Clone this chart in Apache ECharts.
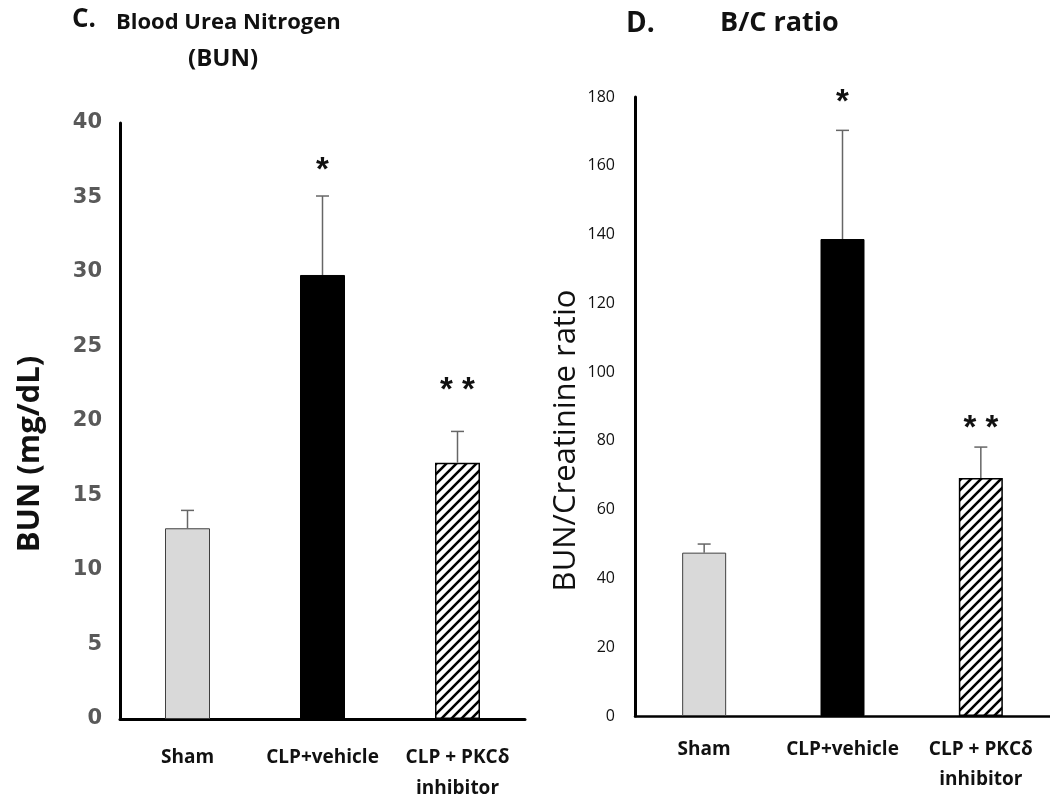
<!DOCTYPE html>
<html><head><meta charset="utf-8">
<script src="https://cdn.jsdelivr.net/npm/echarts@6/dist/echarts.min.js"></script>
<style>html,body{margin:0;padding:0;background:#fff}#c{width:1050px;height:804px}</style>
</head><body><div id="c"></div>
<script>
var categories = ['Sham', 'CLP+vehicle', 'CLP + PKCδ\ninhibitor'];
var bunMean = [12.8, 29.8, 17.2];
var bunErrTop = [14.0, 35.1, 19.3];
var bunStars = ['', '*', '* *'];
var bunTicks = [0, 5, 10, 15, 20, 25, 30, 35, 40];
var ratioMean = [47.5, 138.7, 69.2];
var ratioErrTop = [50.0, 170.3, 78.2];
var ratioStars = ['', '*', '* *'];
var ratioTicks = [0, 20, 40, 60, 80, 100, 120, 140, 160, 180];

var FONT = '"Open Sans", Lato, sans-serif';
var hatch = document.createElement('canvas');
hatch.width = 10; hatch.height = 10;
(function(){
  var g = hatch.getContext('2d');
  g.fillStyle = '#fff'; g.fillRect(0,0,10,10);
  g.strokeStyle = '#000'; g.lineWidth = 2.6;
  g.beginPath();
  g.moveTo(-2,12); g.lineTo(12,-2);
  g.moveTo(-7,7); g.lineTo(7,-7);
  g.moveTo(3,17); g.lineTo(17,3);
  g.stroke();
})();

var barStyles = [
  {color:'#d9d9d9', borderColor:'#404040', borderWidth:1},
  {color:'#000000', borderColor:'#000000', borderWidth:1},
  {color:{image:hatch, repeat:'repeat'}, borderColor:'#000000', borderWidth:1.5}
];

function barData(vals){
  return vals.map(function(v,i){ return {value:v, itemStyle:barStyles[i]}; });
}
function errData(mean, top){
  return mean.map(function(v,i){ return [i, v, top[i]]; });
}
function errRender(params, api){
  var x = api.coord([api.value(0), api.value(1)]);
  var t = api.coord([api.value(0), api.value(2)]);
  var cap = 6.5;
  return {type:'group', children:[
    {type:'line', shape:{x1:x[0], y1:x[1], x2:t[0], y2:t[1]}, style:{stroke:'#666', lineWidth:1.5}},
    {type:'line', shape:{x1:t[0]-cap, y1:t[1], x2:t[0]+cap, y2:t[1]}, style:{stroke:'#666', lineWidth:1.5}}
  ]};
}
function starRender(offsets, stars){
  return function(params, api){
    var t = api.coord([api.value(0), api.value(2)]);
    var i = params.dataIndex;
    return {type:'text', x:t[0], y:t[1]-offsets[i], style:{text:stars[i], fill:'#111', font:'bold 33px "Liberation Sans", Arial, sans-serif', textAlign:'center', textVerticalAlign:'middle'}};
  };
}

var chart = echarts.init(document.getElementById('c'));
chart.setOption({
  animation:false,
  backgroundColor:'#fff',
  title:[
    {text:'C.', left:67, top:2, textStyle:{fontFamily:FONT, fontWeight:'bold', fontSize:26, color:'#111'}},
    {text:'Blood Urea Nitrogen', left:111, top:7, textStyle:{fontFamily:FONT, fontWeight:'bold', fontSize:22, color:'#111'}},
    {text:'(BUN)', left:183, top:42, textStyle:{fontFamily:FONT, fontWeight:'bold', fontSize:24, color:'#111'}},
    {text:'D.', left:621, top:5, textStyle:{fontFamily:FONT, fontWeight:'bold', fontSize:28, color:'#111'}},
    {text:'B/C ratio', left:715, top:5, textStyle:{fontFamily:FONT, fontWeight:'bold', fontSize:27, color:'#111'}}
  ],
  grid:[
    {left:120, top:123, width:405, height:599},
    {left:635, top:97, width:417, height:619}
  ],
  xAxis:[
    {type:'category', gridIndex:0, data:categories, axisLine:{lineStyle:{color:'#000', width:3}}, axisTick:{show:false},
     axisLabel:{interval:0, margin:23, fontFamily:FONT, fontWeight:'bold', fontSize:19, color:'#111', lineHeight:31}},
    {type:'category', gridIndex:1, data:categories, axisLine:{lineStyle:{color:'#000', width:2.5}}, axisTick:{show:false},
     axisLabel:{interval:0, margin:19, fontFamily:FONT, fontWeight:'bold', fontSize:19, color:'#111', lineHeight:30}}
  ],
  yAxis:[
    {type:'value', gridIndex:0, min:bunTicks[0], max:bunTicks[bunTicks.length-1], interval:bunTicks[1]-bunTicks[0],
     splitLine:{show:false}, axisTick:{show:false}, axisLine:{show:true, lineStyle:{color:'#000', width:3}},
     axisLabel:{margin:18, fontFamily:'"DejaVu Sans", Verdana, sans-serif', fontWeight:'bold', fontSize:21, color:'#595959'},
     name:'BUN (mg/dL)', nameLocation:'middle', nameGap:74, nameRotate:90,
     nameTextStyle:{fontFamily:FONT, fontWeight:'bold', fontSize:31, color:'#111', padding:[0,66,0,0]}},
    {type:'value', gridIndex:1, min:ratioTicks[0], max:ratioTicks[ratioTicks.length-1], interval:ratioTicks[1]-ratioTicks[0],
     splitLine:{show:false}, axisTick:{show:false}, axisLine:{show:true, lineStyle:{color:'#000', width:3}},
     axisLabel:{margin:20, fontFamily:FONT, fontSize:16, color:'#111'},
     name:'BUN/Creatinine ratio', nameLocation:'middle', nameGap:53, nameRotate:90,
     nameTextStyle:{fontFamily:FONT, fontSize:31, color:'#111', padding:[0,68,0,0]}}
  ],
  series:[
    {type:'bar', xAxisIndex:0, yAxisIndex:0, barWidth:45, data:barData(bunMean)},
    {type:'custom', xAxisIndex:0, yAxisIndex:0, renderItem:errRender, data:errData(bunMean, bunErrTop), z:3},
    {type:'custom', xAxisIndex:0, yAxisIndex:0, renderItem:starRender([0,25,41], bunStars), data:errData(bunMean, bunErrTop), z:4},
    {type:'bar', xAxisIndex:1, yAxisIndex:1, barWidth:44, data:barData(ratioMean)},
    {type:'custom', xAxisIndex:1, yAxisIndex:1, renderItem:errRender, data:errData(ratioMean, ratioErrTop), z:3},
    {type:'custom', xAxisIndex:1, yAxisIndex:1, renderItem:starRender([0,27,18], ratioStars), data:errData(ratioMean, ratioErrTop), z:4}
  ]
});
</script></body></html>
